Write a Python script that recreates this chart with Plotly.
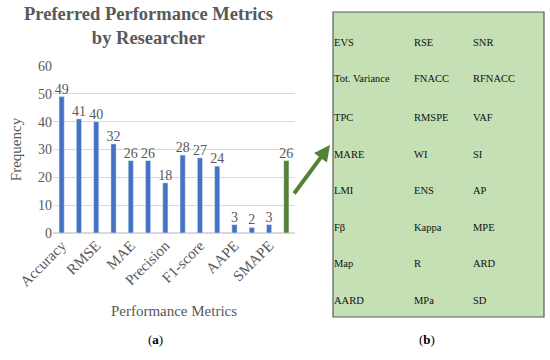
import plotly.graph_objects as go

categories = ["Accuracy", "R2", "RMSE", "MSE", "MAE", "MAPE", "Precision", "Recall",
              "F1-score", "AUC", "AAPE", "MASE", "SMAPE", "Others"]
values = [49, 41, 40, 32, 26, 26, 18, 28, 27, 24, 3, 2, 3, 26]
shown_labels = ["Accuracy", "RMSE", "MAE", "Precision", "F1-score", "AAPE", "SMAPE"]
other_metrics = [
    ["EVS", "RSE", "SNR"],
    ["Tot. Variance", "FNACC", "RFNACC"],
    ["TPC", "RMSPE", "VAF"],
    ["MARE", "WI", "SI"],
    ["LMI", "ENS", "AP"],
    ["Fβ", "Kappa", "MPE"],
    ["Map", "R", "ARD"],
    ["AARD", "MPa", "SD"],
]

BLUE = "#4472c4"
GREEN = "#548235"
GRAY = "#595959"
FONT = "Liberation Serif"

W, H = 550, 360
L, R, T, B = 53, 295, 66, 233


def px(x):
    return (x - L) / (R - L)


def py(y):
    return (B - y) / (B - T)


colors = [BLUE] * (len(categories) - 1) + [GREEN]

fig = go.Figure(go.Bar(
    x=categories, y=values, marker_color=colors, width=0.3,
    text=values, textposition="outside", cliponaxis=False, constraintext="none",
    textfont=dict(family=FONT, size=14, color=GRAY),
))

fig.update_layout(
    width=W, height=H,
    margin=dict(l=L, r=W - R, t=T, b=H - B),
    paper_bgcolor="white", plot_bgcolor="white",
    showlegend=False,
    font=dict(family=FONT, color=GRAY),
    xaxis=dict(tickmode="array", tickvals=shown_labels, ticktext=shown_labels,
               tickangle=-45, tickfont=dict(size=15, color=GRAY),
               showgrid=False, showline=False, ticks="",
               title=dict(text="Performance Metrics", font=dict(size=15, color=GRAY), standoff=16)),
    yaxis=dict(range=[0, 60], dtick=10, gridcolor="#d9d9d9", gridwidth=1,
               zeroline=True, zerolinecolor="#d9d9d9", showline=False,
               tickfont=dict(size=14, color=GRAY), ticks="", ticklen=0,
               title=dict(text="Frequency", font=dict(size=15, color=GRAY), standoff=12)),
)

annotations = [
    dict(text="<b>Preferred Performance Metrics<br>by Researcher</b>", x=px(148), y=py(26),
         xref="paper", yref="paper", showarrow=False, xanchor="center", yanchor="middle",
         font=dict(family=FONT, size=18.5, color=GRAY)),
    dict(text="(<b>a</b>)", x=px(155), y=py(349), xref="paper", yref="paper", showarrow=False,
         font=dict(family=FONT, size=13, color="#000000")),
    dict(text="(<b>b</b>)", x=px(437), y=py(349), xref="paper", yref="paper", showarrow=False,
         font=dict(family=FONT, size=13, color="#000000")),
    dict(x=px(330), y=py(145), ax=-37, ay=50, xref="paper", yref="paper",
         axref="pixel", ayref="pixel", showarrow=True, arrowhead=2, arrowsize=0.8,
         arrowwidth=4, arrowcolor=GREEN, text=""),
]

col_x = [332, 412, 471]
row_y = [43, 79, 117, 154, 190, 227, 263, 300]
for r, row in enumerate(other_metrics):
    for c, name in enumerate(row):
        annotations.append(dict(text=name, x=px(col_x[c]), y=py(row_y[r]), xref="paper", yref="paper",
                                showarrow=False, xanchor="left", yanchor="middle",
                                font=dict(family=FONT, size=10.5, color="#111111")))

fig.update_layout(annotations=annotations, shapes=[
    dict(type="rect", xref="paper", yref="paper", x0=px(333), x1=px(544), y0=py(317), y1=py(12),
         fillcolor="#c5e0b4", line=dict(color="#5a5a5a", width=1.2), layer="below"),
])

fig.write_html("out.html", config={"displayModeBar": False},
               post_script="document.body.style.margin='0';document.body.style.padding='0';")
